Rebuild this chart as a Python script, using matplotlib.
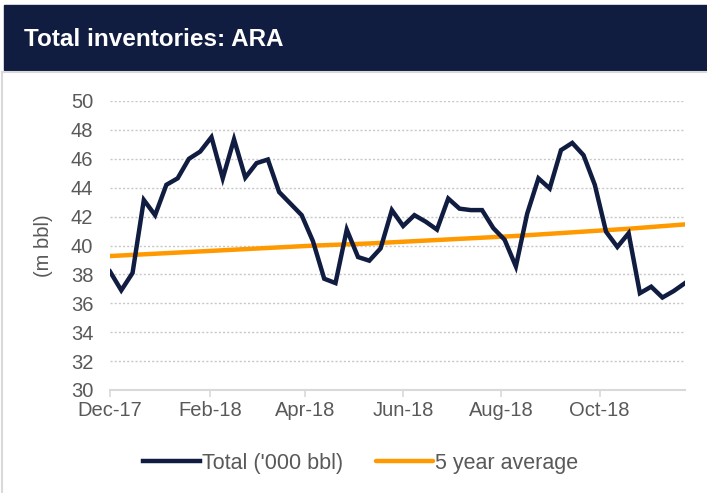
import numpy as np
import pandas as pd
import matplotlib
matplotlib.use('Agg')
import matplotlib.pyplot as plt
import matplotlib.dates as mdates
from matplotlib.patches import Rectangle
from matplotlib.lines import Line2D

plt.rcParams['font.family'] = ['Liberation Sans', 'DejaVu Sans']

# weekly data, Dec-17 .. Nov-18
weeks = pd.date_range('2017-12-01', periods=52, freq='7D')
total = [38.2, 36.9, 38.1, 43.15, 42.1, 44.2, 44.65, 46.0, 46.5, 47.5,
         44.65, 47.35, 44.7, 45.7, 45.95, 43.7, 42.9, 42.1, 40.3, 37.7,
         37.4, 41.1, 39.2, 38.95, 39.8, 42.45, 41.35, 42.1, 41.65, 41.1,
         43.25, 42.55, 42.45, 42.45, 41.2, 40.4, 38.55, 42.2, 44.65, 43.95,
         46.6, 47.1, 46.25, 44.2, 40.95, 39.9, 40.85, 36.7, 37.15, 36.4,
         36.85, 37.4]
avg5 = [39.27, 39.31, 39.35, 39.39, 39.43, 39.47, 39.51, 39.55, 39.59, 39.63,
        39.67, 39.71, 39.75, 39.79, 39.83, 39.87, 39.91, 39.95, 39.99, 40.02,
        40.05, 40.08, 40.11, 40.14, 40.18, 40.22, 40.26, 40.30, 40.34, 40.38,
        40.42, 40.46, 40.50, 40.54, 40.58, 40.62, 40.66, 40.71, 40.76, 40.81,
        40.86, 40.91, 40.96, 41.01, 41.06, 41.11, 41.16, 41.22, 41.28, 41.34,
        41.40, 41.46]
tick_dates = pd.to_datetime(['2017-12-01', '2018-02-01', '2018-04-01',
                             '2018-06-01', '2018-08-01', '2018-10-01'])

navy = '#101c40'
orange = '#ff9900'
grey_txt = '#595959'

fig = plt.figure(figsize=(7.07, 4.93), dpi=100)

# title bar
fig.patches.append(Rectangle((4/707, 1-70/493), 1-4/707, 65/493,
                             transform=fig.transFigure, color=navy, zorder=0))
fig.text(24/707, 1-40/493, 'Total inventories: ARA', color='white',
         fontsize=17.5, fontweight='bold', va='center', ha='left')
# light frame
fig.lines.append(Line2D([2/707, 1], [1-72/493, 1-72/493], transform=fig.transFigure,
                        color='#d9d9d9', lw=1.5))
fig.lines.append(Line2D([2/707, 2/707], [0, 1-72/493], transform=fig.transFigure,
                        color='#d9d9d9', lw=1.5))

ax = fig.add_axes([110/707, 1-390/493, 575/707, 289/493])
ax.plot(weeks, total, color=navy, lw=3.2, label="Total ('000 bbl)",
        solid_joinstyle='miter', zorder=3)
ax.plot(weeks, avg5, color=orange, lw=3.2, label='5 year average',
        solid_capstyle='round', zorder=2)

ax.set_ylim(30, 50)
ax.set_yticks(np.arange(30, 51, 2))
ax.set_xlim(weeks[0], weeks[-1])
ax.set_xticks(tick_dates)
ax.xaxis.set_major_formatter(mdates.DateFormatter('%b-%y'))

ax.grid(axis='y', color='#c8c8c8', ls=(0, (1.5, 1.5)), lw=1)
ax.set_axisbelow(True)
for s in ['top', 'right', 'left']:
    ax.spines[s].set_visible(False)
ax.spines['bottom'].set_color('#d9d9d9')
ax.spines['bottom'].set_linewidth(1.5)
ax.tick_params(axis='y', length=0, labelsize=14.5, labelcolor=grey_txt, pad=12)
ax.tick_params(axis='x', length=5, color='#d9d9d9', width=1.2,
               labelsize=14.5, labelcolor=grey_txt, pad=3)
ax.set_ylabel('(m bbl)', fontsize=14.5, color=grey_txt, labelpad=13)

h, l = ax.get_legend_handles_labels()
fig.legend(h, l, loc='center', bbox_to_anchor=(0.5 + 7/707, 1-463/493), ncol=2,
           frameon=False, fontsize=15.5, labelcolor=grey_txt, handlelength=2.65,
           handletextpad=0.1, columnspacing=1.5)

fig.savefig('out.png', dpi=100, facecolor='white')
